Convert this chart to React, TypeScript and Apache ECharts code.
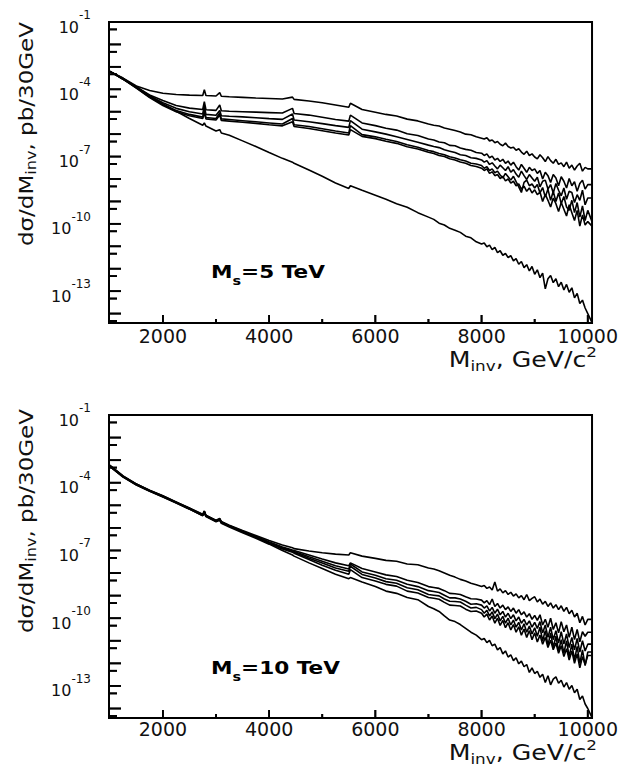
import React, { useEffect, useRef } from 'react';
import * as echarts from 'echarts';

// Invariant-mass bin positions (GeV/c^2) shared by both panels
const massBins = [
  1000, 1250, 1500, 1750, 2000, 2250, 2500, 2750, 2780, 2810,
  3000, 3070, 3100, 3250, 3500, 3750, 4000, 4250, 4440, 4470,
  4750, 5000, 5250, 5500, 5530, 5750,
  6000, 6200, 6400, 6600, 6800, 7000, 7100, 7200, 7300, 7400, 7500, 7600, 7700, 7800, 7900, 8000,
  8050, 8100, 8150, 8200, 8250, 8300, 8350, 8400, 8450, 8500,
  8550, 8600, 8650, 8700, 8750, 8800, 8850, 8900, 8950, 9000,
  9050, 9100, 9150, 9200, 9250, 9300, 9350, 9400, 9450, 9500,
  9550, 9600, 9650, 9700, 9750, 9800, 9850, 9900, 9950, 10000,
  10080,
];

// log10( dσ/dM_inv [pb/30GeV] ), Ms = 5 TeV
const ms5Curve1 = [
  -3.2, -3.5, -3.85, -4.05, -4.18, -4.23, -4.26, -4.28, -4.02, -4.28,
  -4.30, -4.15, -4.31, -4.33, -4.36, -4.39, -4.41, -4.43, -4.35, -4.45,
  -4.52, -4.60, -4.70, -4.80, -4.62, -4.90,
  -5.02, -5.12, -5.19, -5.33, -5.41, -5.55, -5.60, -5.64, -5.73, -5.78, -5.84, -5.90, -6.00, -6.03, -6.12, -6.18,
  -6.22, -6.16, -6.30, -6.26, -6.38, -6.33, -6.45, -6.52, -6.40, -6.55,
  -6.62, -6.58, -6.72, -6.65, -6.80, -6.90, -6.76, -6.95, -6.88, -7.02,
  -7.10, -6.92, -7.05, -7.22, -7.00, -7.18, -7.30, -7.12, -7.35, -7.28,
  -7.45, -7.25, -7.52, -7.38, -7.60, -7.42, -7.30, -7.65, -7.48, -7.55,
  -7.55,
];
const ms5Curve2 = [
  -3.2, -3.52, -3.9, -4.25, -4.5, -4.72, -4.84, -4.90, -4.55, -4.91,
  -4.94, -4.70, -4.96, -4.98, -5.00, -5.02, -5.04, -5.06, -4.85, -5.08,
  -5.15, -5.25, -5.35, -5.42, -5.15, -5.50,
  -5.62, -5.74, -5.82, -5.98, -6.06, -6.22, -6.26, -6.35, -6.38, -6.50, -6.52, -6.62, -6.68, -6.72, -6.82, -6.85,
  -6.95, -6.88, -7.05, -6.98, -7.15, -7.08, -7.22, -7.12, -7.30, -7.20,
  -7.38, -7.25, -7.45, -7.60, -7.35, -7.52, -7.70, -7.48, -7.62, -7.55,
  -7.75, -7.62, -8.00, -7.70, -7.85, -8.15, -7.80, -7.95, -8.30, -7.90,
  -8.10, -8.40, -7.98, -8.30, -8.12, -8.55, -8.20, -8.05, -8.45, -8.25,
  -8.25,
];
const ms5Curve3 = [
  -3.2, -3.53, -3.92, -4.3, -4.6, -4.85, -5.0, -5.1, -4.75, -5.12,
  -5.16, -4.95, -5.18, -5.20, -5.23, -5.27, -5.31, -5.34, -5.10, -5.37,
  -5.45, -5.53, -5.62, -5.70, -5.40, -5.78,
  -5.90, -6.00, -6.12, -6.24, -6.36, -6.49, -6.55, -6.60, -6.70, -6.76, -6.82, -6.92, -6.95, -7.05, -7.08, -7.15,
  -7.25, -7.18, -7.35, -7.28, -7.42, -7.55, -7.38, -7.50, -7.62, -7.45,
  -7.70, -7.58, -7.78, -7.92, -7.65, -7.85, -8.02, -7.80, -7.95, -8.10,
  -7.92, -8.35, -8.10, -8.05, -8.45, -8.25, -8.62, -8.20, -8.50, -8.75,
  -8.40, -8.90, -8.55, -8.60, -9.05, -8.70, -8.95, -8.50, -9.15, -8.85,
  -8.85,
];
const ms5Curve4 = [
  -3.2, -3.54, -3.94, -4.35, -4.68, -4.95, -5.12, -5.24, -4.85, -5.26,
  -5.30, -5.05, -5.32, -5.35, -5.40, -5.45, -5.50, -5.55, -5.30, -5.58,
  -5.66, -5.76, -5.86, -5.95, -5.62, -6.02,
  -6.12, -6.23, -6.33, -6.47, -6.58, -6.73, -6.78, -6.86, -6.92, -7.01, -7.06, -7.14, -7.20, -7.30, -7.33, -7.40,
  -7.52, -7.45, -7.62, -7.55, -7.72, -7.65, -7.82, -7.95, -7.75, -7.90,
  -8.05, -7.88, -8.12, -8.35, -8.60, -8.15, -8.05, -8.30, -8.22, -8.40,
  -8.25, -8.62, -8.38, -8.80, -8.45, -8.95, -8.55, -9.00, -8.62, -9.10,
  -8.78, -9.25, -9.40, -8.95, -9.50, -9.05, -9.70, -9.20, -9.85, -9.40,
  -9.90,
];
const ms5Curve5 = [
  -3.2, -3.55, -3.95, -4.37, -4.72, -5.0, -5.18, -5.30, -5.05, -5.32,
  -5.37, -5.15, -5.39, -5.42, -5.47, -5.52, -5.58, -5.63, -5.45, -5.66,
  -5.75, -5.85, -5.95, -6.04, -5.80, -6.10,
  -6.20, -6.32, -6.41, -6.56, -6.66, -6.81, -6.86, -6.95, -7.00, -7.10, -7.15, -7.24, -7.30, -7.40, -7.44, -7.52,
  -7.62, -7.55, -7.75, -7.68, -7.85, -7.80, -7.98, -7.88, -8.08, -8.00,
  -8.18, -8.10, -8.30, -8.22, -8.45, -8.32, -8.55, -8.40, -8.62, -8.48,
  -8.70, -8.58, -9.00, -8.68, -8.95, -9.25, -8.85, -9.10, -9.45, -9.05,
  -9.35, -9.65, -9.15, -9.50, -9.85, -9.40, -10.10, -9.60, -10.05, -9.90,
  -10.10,
];
const ms5Curve6 = [
  -3.2, -3.55, -3.88, -4.3, -4.65, -4.98, -5.3, -5.60, -5.50, -5.64,
  -5.86, -5.80, -5.95, -6.05, -6.30, -6.55, -6.82, -7.08, -7.25, -7.30,
  -7.60, -7.88, -8.18, -8.42, -8.30, -8.50,
  -8.72, -8.90, -9.10, -9.26, -9.50, -9.70, -9.80, -9.97, -10.05, -10.20, -10.28, -10.38, -10.55, -10.62, -10.80, -10.90,
  -10.85, -11.02, -10.95, -11.15, -11.05, -11.28, -11.20, -11.40, -11.32, -11.50,
  -11.42, -11.65, -11.55, -11.80, -11.68, -11.95, -11.82, -12.10, -11.90, -12.25,
  -12.05, -12.40, -12.20, -12.90, -12.45, -12.30, -12.62, -12.45, -12.80, -12.60,
  -12.95, -12.70, -13.05, -12.85, -13.30, -13.10, -13.55, -13.40, -13.75, -14.00,
  -14.40,
];

// log10( dσ/dM_inv [pb/30GeV] ), Ms = 10 TeV
const ms10Curve1 = [
  -3.22, -3.70, -4.05, -4.33, -4.58, -4.85, -5.12, -5.40, -5.25, -5.44,
  -5.66, -5.58, -5.72, -5.88, -6.12, -6.34, -6.56, -6.76, -6.88, -6.92,
  -7.02, -7.10, -7.16, -7.20, -7.10, -7.25,
  -7.35, -7.44, -7.48, -7.60, -7.63, -7.78, -7.82, -7.90, -8.00, -8.10, -8.18, -8.28, -8.35, -8.45, -8.52, -8.60,
  -8.55, -8.68, -8.62, -8.75, -8.40, -8.80, -8.70, -8.88, -8.78, -8.95,
  -8.85, -9.02, -8.92, -9.10, -9.00, -9.18, -8.95, -9.22, -9.12, -9.05,
  -9.28, -9.15, -9.38, -9.25, -9.48, -9.32, -9.55, -9.40, -9.62, -9.45,
  -9.70, -9.52, -9.80, -9.65, -9.95, -9.78, -10.20, -9.92, -10.30, -10.05,
  -10.05,
];
const ms10Curve2 = [
  -3.24, -3.71, -4.06, -4.34, -4.59, -4.86, -5.13, -5.42, -5.27, -5.45,
  -5.68, -5.60, -5.74, -5.90, -6.15, -6.38, -6.62, -6.85, -6.98, -7.00,
  -7.20, -7.38, -7.55, -7.68, -7.55, -7.80,
  -7.95, -8.08, -8.15, -8.32, -8.42, -8.60, -8.64, -8.68, -8.78, -8.90, -8.92, -8.95, -9.05, -9.14, -9.15, -9.20,
  -9.32, -9.22, -9.40, -9.15, -9.48, -9.35, -9.55, -9.42, -9.62, -9.50,
  -9.70, -9.55, -9.78, -9.62, -9.85, -9.72, -9.95, -9.80, -10.05, -9.88,
  -10.10, -9.85, -10.30, -10.05, -10.40, -10.00, -10.50, -10.20, -10.65, -10.15,
  -10.60, -10.30, -10.85, -10.40, -10.95, -10.50, -11.05, -10.60, -10.80, -10.62,
  -10.62,
];
const ms10Curve3 = [
  -3.25, -3.72, -4.07, -4.35, -4.60, -4.87, -5.14, -5.43, -5.28, -5.46,
  -5.69, -5.62, -5.75, -5.91, -6.16, -6.39, -6.64, -6.88, -7.02, -7.05,
  -7.28, -7.48, -7.68, -7.82, -7.60, -7.95,
  -8.10, -8.25, -8.32, -8.50, -8.60, -8.78, -8.82, -8.86, -8.98, -9.10, -9.10, -9.15, -9.25, -9.38, -9.36, -9.42,
  -9.55, -9.45, -9.68, -9.52, -9.78, -9.60, -9.85, -9.70, -9.95, -9.78,
  -10.02, -9.85, -10.12, -9.95, -10.22, -10.05, -10.30, -10.12, -10.40, -10.18,
  -10.45, -10.15, -10.65, -10.30, -10.85, -10.40, -10.95, -10.55, -11.10, -10.60,
  -11.15, -10.70, -11.30, -10.85, -11.40, -10.90, -11.50, -11.00, -11.45, -11.15,
  -11.15,
];
const ms10Curve4 = [
  -3.26, -3.73, -4.08, -4.36, -4.61, -4.88, -5.15, -5.44, -5.30, -5.47,
  -5.70, -5.63, -5.76, -5.92, -6.17, -6.40, -6.66, -6.90, -7.05, -7.08,
  -7.34, -7.56, -7.78, -7.92, -7.70, -8.06,
  -8.22, -8.38, -8.45, -8.65, -8.74, -8.95, -8.98, -9.01, -9.15, -9.25, -9.26, -9.28, -9.42, -9.55, -9.52, -9.62,
  -9.78, -9.65, -9.90, -9.72, -10.02, -9.82, -10.12, -9.92, -10.22, -10.00,
  -10.30, -10.08, -10.40, -10.18, -10.52, -10.25, -10.62, -10.35, -10.70, -10.42,
  -10.80, -10.40, -11.00, -10.55, -11.20, -10.65, -11.30, -10.80, -11.45, -10.95,
  -11.55, -11.00, -11.70, -11.15, -11.85, -11.25, -12.00, -11.40, -12.10, -11.50,
  -11.50,
];
const ms10Curve5 = [
  -3.27, -3.74, -4.09, -4.37, -4.62, -4.89, -5.16, -5.45, -5.31, -5.48,
  -5.71, -5.64, -5.77, -5.93, -6.18, -6.42, -6.68, -6.93, -7.08, -7.12,
  -7.40, -7.65, -7.88, -8.05, -7.85, -8.20,
  -8.35, -8.50, -8.58, -8.80, -8.88, -9.08, -9.12, -9.16, -9.30, -9.42, -9.44, -9.46, -9.60, -9.70, -9.68, -9.78,
  -9.95, -9.82, -10.08, -9.90, -10.22, -10.00, -10.32, -10.10, -10.42, -10.20,
  -10.52, -10.28, -10.62, -10.38, -10.75, -10.48, -10.85, -10.55, -10.95, -10.65,
  -11.05, -10.75, -11.15, -10.85, -11.30, -10.98, -11.40, -11.10, -11.55, -11.22,
  -11.70, -11.35, -11.85, -11.45, -12.00, -11.58, -12.20, -11.70, -12.05, -11.65,
  -11.65,
];
const ms10Curve6 = [
  -3.28, -3.75, -4.10, -4.38, -4.63, -4.90, -5.17, -5.46, -5.32, -5.50,
  -5.73, -5.66, -5.80, -5.96, -6.22, -6.46, -6.72, -7.00, -7.20, -7.25,
  -7.55, -7.80, -8.05, -8.25, -8.20, -8.40,
  -8.60, -8.80, -8.90, -9.08, -9.18, -9.48, -9.58, -9.70, -9.90, -10.08, -10.15, -10.28, -10.45, -10.62, -10.75, -10.95,
  -10.90, -11.08, -10.98, -11.22, -11.15, -11.40, -11.30, -11.58, -11.45, -11.72,
  -11.62, -11.88, -11.75, -12.02, -11.90, -12.15, -12.05, -12.40, -12.20, -12.45,
  -12.35, -12.62, -12.48, -12.85, -12.55, -12.95, -12.70, -12.60, -12.88, -12.75,
  -13.05, -12.85, -13.15, -12.98, -13.30, -13.15, -13.60, -13.45, -13.80, -14.00,
  -14.40,
];

const panelCurves = [
  [ms5Curve1, ms5Curve2, ms5Curve3, ms5Curve4, ms5Curve5, ms5Curve6],
  [ms10Curve1, ms10Curve2, ms10Curve3, ms10Curve4, ms10Curve5, ms10Curve6],
];
const panelScaleLabels = ['5', '10'];

// Axis ticks (y in log10 units)
const xLabelTicks = [2000, 4000, 6000, 8000, 10000];
const xMinorTicks = [3000, 5000, 7000, 9000];
const yLabelTicks = [-1, -4, -7, -10, -13];
const yMajorTicks = [-1, -2, -3, -4, -5, -6, -7, -8, -9, -10, -11, -12, -13, -14];
const yMinorTicks = [-1.33, -2.33, -3.33, -4.33, -5.33, -6.33, -7.33, -8.33, -9.33, -10.33, -11.33, -12.33, -13.33, -14.33];

const X_MIN = 985;
const X_MAX = 10080;
const Y_MIN = -14.42;
const Y_MAX = -1;

const FONT = 'DejaVu Sans';
const INK = '#111';
const TICK_W = 1.8;

const panelBoxes = [
  { top: 22, height: 301, yTitleTop: 22, xTitleY: 359, labelY: 272, labelMargin: 3 },
  { top: 415, height: 303, yTitleTop: 409, xTitleY: 752, labelY: 668, labelMargin: 1 },
];

const yTickMarks = [...yMajorTicks.map((v) => [v, 12]), ...yMinorTicks.map((v) => [v, 8])];
const xTickMarks = [...xLabelTicks.map((v) => [v, 8]), ...xMinorTicks.map((v) => [v, 4])];

function yTickRect(pt: number[], len: number) {
  return { x: pt[0], y: pt[1] - TICK_W / 2, width: len, height: TICK_W };
}
function xTickRect(pt: number[], len: number) {
  return { x: pt[0] - TICK_W / 2, y: pt[1] - len, width: TICK_W, height: len };
}

function buildOption() {
  const grid: any[] = [];
  const xAxis: any[] = [];
  const yAxis: any[] = [];
  const series: any[] = [];
  const graphic: any[] = [];

  panelBoxes.forEach((box, p) => {
    grid.push({
      left: 109, top: box.top, width: 484, height: box.height,
      show: true, borderColor: '#000', borderWidth: 2, backgroundColor: 'transparent',
    });
    xAxis.push({
      type: 'value', gridIndex: p, min: X_MIN, max: X_MAX, position: 'bottom',
      axisLine: { show: false }, splitLine: { show: false }, axisTick: { show: false },
      axisLabel: {
        show: true, customValues: xLabelTicks, fontFamily: FONT, fontSize: 19, color: INK, margin: box.labelMargin,
        formatter: (v: number) => String(Math.round(v)),
      },
    });
    yAxis.push({
      type: 'value', gridIndex: p, min: Y_MIN, max: Y_MAX, position: 'left',
      axisLine: { show: false }, splitLine: { show: false }, axisTick: { show: false },
      axisLabel: {
        show: true, customValues: yLabelTicks, margin: 18,
        formatter: (v: number) => `{b|10}{s|${Math.round(v)}}`,
        rich: {
          b: { fontFamily: FONT, fontSize: 16, lineHeight: 26, color: INK, verticalAlign: 'bottom' },
          s: { fontFamily: FONT, fontSize: 12, lineHeight: 26, color: INK, verticalAlign: 'top' },
        },
      },
    });

    panelCurves[p].forEach((vals, k) => {
      series.push({
        type: 'line', name: `Ms${panelScaleLabels[p]}-${k + 1}`,
        xAxisIndex: p, yAxisIndex: p,
        data: massBins.map((m, i) => [m, vals[i]]),
        showSymbol: false, symbol: 'none', silent: true, clip: true,
        lineStyle: { color: '#000', width: 1.6 },
      });
    });

    // inward tick marks (as thin filled bars) positioned by the axes' own scales
    series.push({
      type: 'custom', name: `yticks${p}`, xAxisIndex: p, yAxisIndex: p, silent: true, clip: false, z: 5,
      encode: { x: 1, y: 0 },
      data: yTickMarks.map(([v, len]) => [v, X_MIN, len]),
      renderItem: (_params: any, api: any) => {
        const pt = api.coord([X_MIN, api.value(0)]);
        return { type: 'rect', shape: yTickRect(pt, api.value(2)), style: { fill: '#000' } };
      },
    });
    series.push({
      type: 'custom', name: `xticks${p}`, xAxisIndex: p, yAxisIndex: p, silent: true, clip: false, z: 5,
      encode: { x: 0, y: 1 },
      data: xTickMarks.map(([v, len]) => [v, Y_MIN, len]),
      renderItem: (_params: any, api: any) => {
        const pt = api.coord([api.value(0), Y_MIN]);
        return { type: 'rect', shape: xTickRect(pt, api.value(2)), style: { fill: '#000' } };
      },
    });

    graphic.push({
      type: 'text', id: `ytitle${p}`, x: 26, y: box.yTitleTop, rotation: Math.PI / 2, scaleX: 1.15,
      style: {
        text: '{a|dσ/dM}{b|inv}{a|, pb/30GeV}',
        align: 'right', verticalAlign: 'middle', fill: INK,
        rich: {
          a: { fontFamily: FONT, fontSize: 20, lineHeight: 24, verticalAlign: 'middle', fill: INK },
          b: { fontFamily: FONT, fontSize: 14, lineHeight: 24, verticalAlign: 'bottom', fill: INK },
        },
      },
    });
    graphic.push({
      type: 'text', id: `xtitle${p}`, x: 597, y: box.xTitleY, scaleX: 1.2,
      style: {
        text: '{a|M}{b|inv}{a|, GeV/c}{c|2}',
        align: 'right', verticalAlign: 'middle', fill: INK,
        rich: {
          a: { fontFamily: FONT, fontSize: 21, lineHeight: 28, verticalAlign: 'middle', fill: INK },
          b: { fontFamily: FONT, fontSize: 14, lineHeight: 28, verticalAlign: 'bottom', fill: INK },
          c: { fontFamily: FONT, fontSize: 14, lineHeight: 28, verticalAlign: 'top', fill: INK },
        },
      },
    });
    graphic.push({
      type: 'text', id: `mslabel${p}`, x: 211, y: box.labelY, scaleX: 1.2,
      style: {
        text: `{a|M}{b|s}{a|=${panelScaleLabels[p]} TeV}`,
        align: 'left', verticalAlign: 'middle', fill: '#000',
        rich: {
          a: { fontFamily: FONT, fontWeight: 'bold', fontSize: 18, lineHeight: 30, verticalAlign: 'middle', fill: '#000' },
          b: { fontFamily: FONT, fontWeight: 'bold', fontSize: 12, lineHeight: 30, verticalAlign: 'bottom', fill: '#000' },
        },
      },
    });
  });

  return {
    animation: false,
    backgroundColor: '#fff',
    grid, xAxis, yAxis, series, graphic,
  };
}

// Same tick marks, placed with the chart's own coordinate conversion
function buildTickGraphics(chart: any) {
  const out: any[] = [];
  panelBoxes.forEach((_box, p) => {
    const finder = { xAxisIndex: p, yAxisIndex: p };
    yTickMarks.forEach(([v, len], i) => {
      const pt = chart.convertToPixel(finder, [X_MIN, v]);
      if (!pt) return;
      out.push({ type: 'rect', id: `ytk${p}_${i}`, z: 50, shape: yTickRect(pt, len), style: { fill: '#000' } });
    });
    xTickMarks.forEach(([v, len], i) => {
      const pt = chart.convertToPixel(finder, [v, Y_MIN]);
      if (!pt) return;
      out.push({ type: 'rect', id: `xtk${p}_${i}`, z: 50, shape: xTickRect(pt, len), style: { fill: '#000' } });
    });
  });
  return out;
}

export default function App() {
  const ref = useRef<HTMLDivElement>(null);
  useEffect(() => {
    if (!ref.current) return;
    const chart = echarts.init(ref.current, undefined, { renderer: 'svg' });
    const option: any = buildOption();
    chart.setOption(option);
    try {
      const ticks = buildTickGraphics(chart);
      chart.setOption({ graphic: [...option.graphic, ...ticks] });
    } catch (e) {
      // keep the chart even if tick conversion fails
    }
    return () => chart.dispose();
  }, []);
  return <div ref={ref} style={{ position: 'absolute', left: 0, top: 0, width: 621, height: 768 }} />;
}
